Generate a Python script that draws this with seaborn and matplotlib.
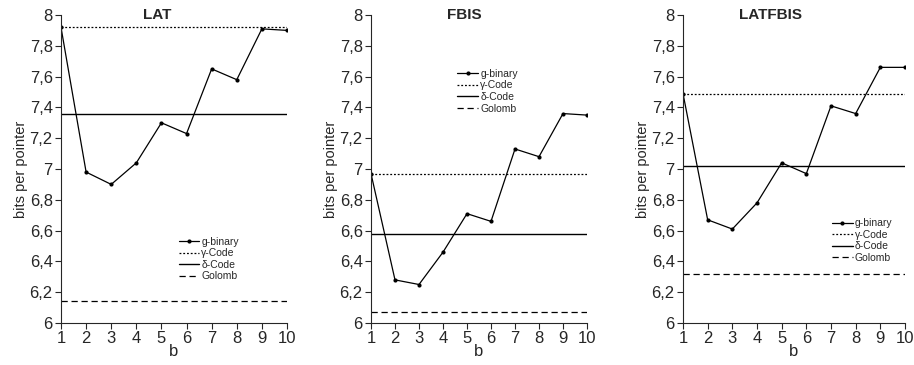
import numpy as np
import pandas as pd
import seaborn as sns
import matplotlib
matplotlib.use("Agg")
import matplotlib.pyplot as plt
from matplotlib.lines import Line2D

sns.set_style("ticks")
plt.rcParams['font.family'] = ['Liberation Sans', 'DejaVu Sans']

b = [1, 2, 3, 4, 5, 6, 7, 8, 9, 10]
titles = ["LAT", "FBIS", "LATFBIS"]

gbinary_lat = [7.92, 6.98, 6.90, 7.04, 7.30, 7.23, 7.65, 7.58, 7.91, 7.90]
gbinary_fbis = [6.97, 6.28, 6.25, 6.46, 6.71, 6.66, 7.13, 7.08, 7.36, 7.35]
gbinary_latfbis = [7.49, 6.67, 6.61, 6.78, 7.04, 6.97, 7.41, 7.36, 7.66, 7.66]

gamma_code = [7.92, 6.97, 7.49]
delta_code = [7.36, 6.58, 7.02]
golomb = [6.14, 6.07, 6.32]

yticks = [6, 6.2, 6.4, 6.6, 6.8, 7, 7.2, 7.4, 7.6, 7.8, 8]
ytick_labels = ["6", "6,2", "6,4", "6,6", "6,8", "7", "7,2", "7,4", "7,6", "7,8", "8"]

gbinary = [gbinary_lat, gbinary_fbis, gbinary_latfbis]

fig = plt.figure(figsize=(9.14, 3.65), dpi=100)
W, H = 914, 365
# axes boxes in pixels: left, right
boxes = [(61, 287), (371, 587), (683, 905)]
top_px, bot_px = 15, 323
title_x = [157, 464, 771]
legend_pos = [(0.52, 0.28), (0.40, 0.825), (0.67, 0.34)]

for i, (l, r) in enumerate(boxes):
    ax = fig.add_axes([l / W, 1 - bot_px / H, (r - l) / W, (bot_px - top_px) / H])
    df = pd.DataFrame({"b": b, "bits": gbinary[i]})
    sns.lineplot(data=df, x="b", y="bits", ax=ax, color="black", lw=0.9,
                 marker="o", markersize=3, markeredgewidth=0)
    ax.axhline(gamma_code[i], color="black", lw=0.9, ls=(0, (1.5, 1.5)))
    ax.axhline(delta_code[i], color="black", lw=1.0, ls="-")
    ax.axhline(golomb[i], color="black", lw=0.9, ls=(0, (5, 3)))

    ax.set_xlim(1, 10)
    ax.set_ylim(6, 8)
    ax.set_xticks(b)
    ax.set_yticks(yticks)
    ax.set_yticklabels(ytick_labels)
    ax.tick_params(labelsize=12, length=4, width=0.8, pad=2)
    ax.set_xlabel("b", fontsize=12, labelpad=-2)
    ax.set_ylabel("bits per pointer", fontsize=10.5, labelpad=1)
    fig.text(title_x[i] / W, 1 - 15 / H, titles[i], ha="center", va="center",
             fontsize=11, fontweight="bold")
    sns.despine(ax=ax)
    for s in ax.spines.values():
        s.set_linewidth(0.8)

    handles = [
        Line2D([], [], color="black", lw=0.9, marker="o", markersize=3, markeredgewidth=0),
        Line2D([], [], color="black", lw=0.9, ls=(0, (1.5, 1.5))),
        Line2D([], [], color="black", lw=1.0),
        Line2D([], [], color="black", lw=0.9, ls=(0, (5, 3))),
    ]
    ax.legend(handles, ["g-binary", "\u03b3-Code", "\u03b4-Code", "Golomb"],
              loc="upper left", bbox_to_anchor=legend_pos[i], frameon=False,
              fontsize=7.5, handlelength=2.0, handletextpad=0.2,
              labelspacing=0.15, borderaxespad=0, borderpad=0)

fig.savefig("out.png", dpi=100)
